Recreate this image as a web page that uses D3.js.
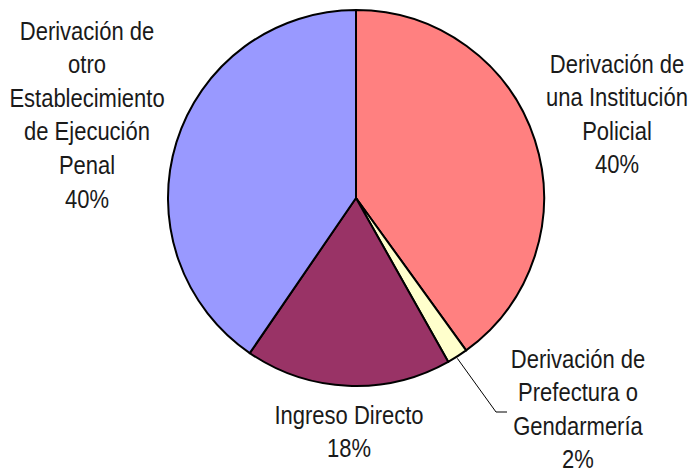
<!DOCTYPE html>
<html><head><meta charset="utf-8">
<script src="https://cdn.jsdelivr.net/npm/d3@7"></script>
<style>
html,body{margin:0;padding:0;background:#fff;}
text{font-family:"Liberation Sans",Arial,sans-serif;fill:#1a1a1a;}
</style></head>
<body>
<svg id="chart" width="697" height="475"></svg>
<script>
const categories = [
  ["Derivación de","una Institución","Policial"],
  ["Derivación de","Prefectura o","Gendarmería"],
  ["Ingreso Directo"],
  ["Derivación de","otro","Establecimiento","de Ejecución","Penal"]
];
const values = [40.0, 1.8, 17.7, 40.4];
const pctLabels = ["40%","2%","18%","40%"];
const colors = ["#FF8080","#FFFFCC","#993366","#9999FF"];

const svg = d3.select("#chart");
const cx = 356, cy = 198, r = 188;
const g = svg.append("g").attr("transform",`translate(${cx},${cy})`);
const pie = d3.pie().sort(null).value(d=>d);
const arcs = pie(values);
const arc = d3.arc().innerRadius(0).outerRadius(r);
g.selectAll("path").data(arcs).enter().append("path")
  .attr("d",arc).attr("fill",(d,i)=>colors[i])
  .attr("stroke","#000").attr("stroke-width",2).attr("stroke-linejoin","round");

// label layout (center x, first-line center y)
const labelPos = [[617,63],[578,358],[349,414],[87,30]];
const lh = 33.6;
const fs = 26.5;
const sx = 0.83;
categories.forEach((lines,i)=>{
  const all = lines.concat([pctLabels[i]]);
  const t = svg.append("text").attr("text-anchor","middle").attr("font-size",fs)
    .attr("transform",`translate(${labelPos[i][0]},0) scale(${sx},1)`);
  all.forEach((s,j)=>{
    t.append("tspan").attr("x",0).attr("y",labelPos[i][1]+j*lh).attr("dy","0.36em").text(s);
  });
});
// leader line for small slice
const a1 = arcs[1];
const mid = (a1.startAngle+a1.endAngle)/2;
const p0 = [cx + Math.sin(mid)*r, cy - Math.cos(mid)*r];
svg.append("path").attr("d",`M${p0[0]},${p0[1]+2}L496,412L507,412`)
  .attr("fill","none").attr("stroke","#000").attr("stroke-width",1);
</script>
</body></html>
